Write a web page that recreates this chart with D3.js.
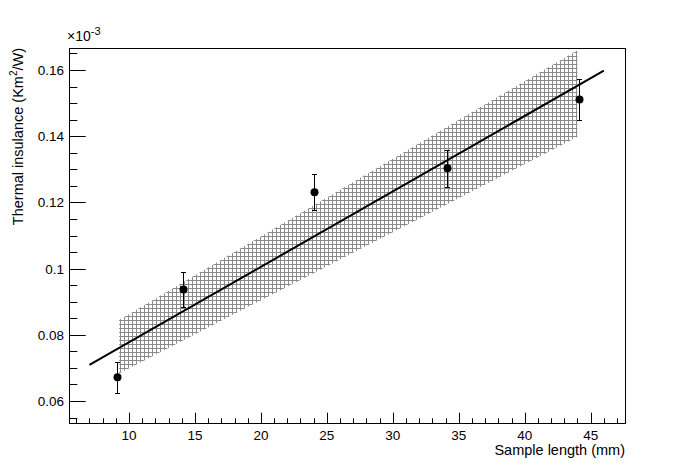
<!DOCTYPE html>
<html>
<head>
<meta charset="utf-8">
<script src="https://cdn.jsdelivr.net/npm/d3@7"></script>
<style>
  html, body { margin: 0; padding: 0; background: #fff; }
  svg { display: block; }
  text { font-family: "Liberation Sans", Arial, Helvetica, sans-serif; fill: #000; }
</style>
</head>
<body>
<svg id="chart" width="696" height="472"></svg>
<script>
// ---- data ----
const sampleLength = [9.07, 14.1, 24.05, 34.1, 44.14];          // mm
const insulance    = [0.0672, 0.0937, 0.1231, 0.1303, 0.1511];  // x1e-3 Km2/W
const insulanceErr = [0.0047, 0.0052, 0.0055, 0.0055, 0.0062];
const fitX = [7.0, 46.0];
const fitY = [0.0709, 0.1598];
const bandX     = [9.25, 44.0];
const bandUpper = [0.0845, 0.1660];
const bandLower = [0.0683, 0.1398];
const xMajorTicks = [10, 15, 20, 25, 30, 35, 40, 45];
const xMinorTicks = d3.range(6, 48, 1);
const yMajorTicks = [0.06, 0.08, 0.10, 0.12, 0.14, 0.16];
const yMajorLabels = ["0.06", "0.08", "0.1", "0.12", "0.14", "0.16"];
const yMinorTicks = d3.range(0.055, 0.1666, 0.005);

// ---- layout ----
const svg = d3.select("#chart");
const L = 69, R = 626, T = 48, B = 424;
const x = d3.scaleLinear().domain([5.451, 47.68]).range([L, R]);
const y = d3.scaleLinear().domain([0.05305, 0.16665]).range([B, T]);

// hatch pattern
const defs = svg.append("defs");
const pat = defs.append("pattern").attr("id", "hatch")
  .attr("patternUnits", "userSpaceOnUse").attr("width", 4).attr("height", 4);
pat.append("line").attr("x1", 0.5).attr("x2", 0.5).attr("y1", 0).attr("y2", 4)
  .attr("stroke", "#8a8a8a").attr("stroke-width", 1);
pat.append("line").attr("x1", 0).attr("x2", 4).attr("y1", 0.5).attr("y2", 0.5)
  .attr("stroke", "#8a8a8a").attr("stroke-width", 1);

// band
const bandPts = bandX.map((d, i) => [x(d), y(bandUpper[i])])
  .concat(bandX.map((d, i) => [x(d), y(bandLower[i])]).reverse());
svg.append("path").attr("d", d3.line()(bandPts) + "Z")
  .attr("fill", "url(#hatch)").attr("stroke", "none");

// fit line
svg.append("path")
  .attr("d", d3.line()(fitX.map((d, i) => [x(d), y(fitY[i])])))
  .attr("stroke", "#000").attr("stroke-width", 2).attr("fill", "none");

// error bars
const g = svg.append("g");
sampleLength.forEach((d, i) => {
  const cx = Math.round(x(d)) + 0.5;
  const top = Math.round(y(insulance[i] + insulanceErr[i])) + 0.5;
  const bot = Math.round(y(insulance[i] - insulanceErr[i])) + 0.5;
  g.append("line").attr("x1", cx).attr("x2", cx).attr("y1", top).attr("y2", bot)
    .attr("stroke", "#000").attr("stroke-width", 1);
  g.append("line").attr("x1", cx - 2.5).attr("x2", cx + 2.5).attr("y1", top).attr("y2", top)
    .attr("stroke", "#000").attr("stroke-width", 1);
  g.append("line").attr("x1", cx - 2.5).attr("x2", cx + 2.5).attr("y1", bot).attr("y2", bot)
    .attr("stroke", "#000").attr("stroke-width", 1);
  g.append("circle").attr("cx", cx).attr("cy", y(insulance[i])).attr("r", 4).attr("fill", "#000");
});

// frame
svg.append("rect").attr("x", L + 0.5).attr("y", T + 0.5)
  .attr("width", R - L - 1).attr("height", B - T - 1)
  .attr("fill", "none").attr("stroke", "#000").attr("stroke-width", 1);

// x ticks (inward)
const ax = svg.append("g").attr("stroke", "#000").attr("stroke-width", 1);
xMinorTicks.forEach(v => {
  const px = Math.round(x(v)) + 0.5;
  ax.append("line").attr("x1", px).attr("x2", px).attr("y1", B).attr("y2", B - 5.7);
});
xMajorTicks.forEach(v => {
  const px = Math.round(x(v)) + 0.5;
  ax.append("line").attr("x1", px).attr("x2", px).attr("y1", B).attr("y2", B - 11.3);
});
svg.append("g").selectAll("text").data(xMajorTicks).join("text")
  .attr("x", d => x(d)).attr("y", 440).attr("text-anchor", "middle")
  .attr("font-size", 13.5).text(d => d);

// y ticks (inward)
yMinorTicks.forEach(v => {
  const py = Math.round(y(v)) + 0.5;
  ax.append("line").attr("x1", L).attr("x2", L + 8.3).attr("y1", py).attr("y2", py);
});
yMajorTicks.forEach(v => {
  const py = Math.round(y(v)) + 0.5;
  ax.append("line").attr("x1", L).attr("x2", L + 16.7).attr("y1", py).attr("y2", py);
});
svg.append("g").selectAll("text").data(yMajorTicks).join("text")
  .attr("x", 64).attr("y", d => y(d) + 5).attr("text-anchor", "end")
  .attr("font-size", 13.5).text((d, i) => yMajorLabels[i]);

// exponent label
const ex = svg.append("text").attr("x", 67).attr("y", 41).attr("font-size", 14);
ex.append("tspan").text("×10");
ex.append("tspan").attr("dy", -6).attr("font-size", 11).text("-3");

// axis titles
svg.append("text").attr("x", 625).attr("y", 455).attr("text-anchor", "end")
  .attr("font-size", 14.5).text("Sample length (mm)");

const yt = svg.append("text").attr("transform", `translate(23,${T}) rotate(-90)`)
  .attr("text-anchor", "end").attr("font-size", 14.5);
yt.append("tspan").text("Thermal insulance (Km");
yt.append("tspan").attr("dy", -6).attr("font-size", 10).text("2");
yt.append("tspan").attr("dy", 6).text("/W)");
</script>
</body>
</html>
